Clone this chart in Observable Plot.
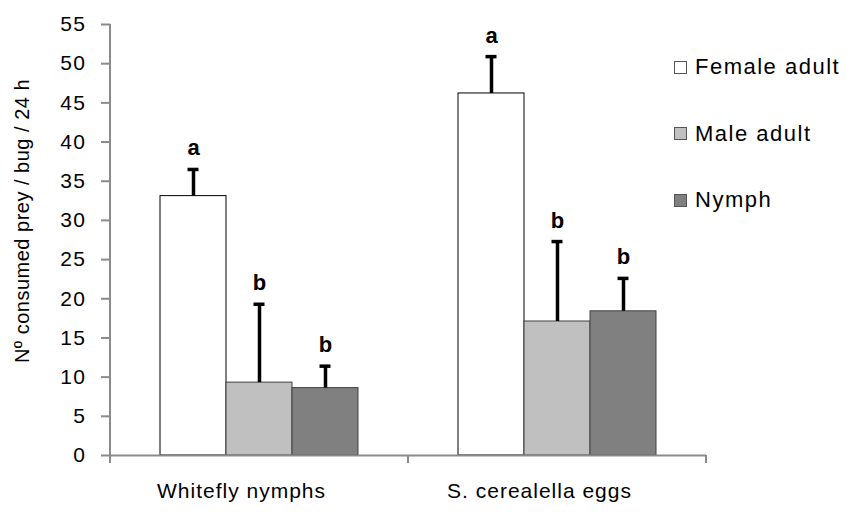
<!DOCTYPE html>
<html>
<head>
<meta charset="utf-8">
<script src="https://cdn.jsdelivr.net/npm/d3@7"></script>
<script src="https://cdn.jsdelivr.net/npm/@observablehq/plot@0.6"></script>
<style>
  html, body { margin: 0; padding: 0; background: #fff; }
  #wrap { position: relative; width: 851px; height: 512px; font-family: "Liberation Sans", Arial, sans-serif; }
  #legend { position: absolute; left: 674px; top: 54px; }
  .item { display: flex; align-items: center; height: 26px; margin-bottom: 40.5px; font-size: 22px; letter-spacing: 1.5px; color: #000; }
  .sw { width: 11px; height: 11px; border: 1px solid #555; margin-right: 8px; box-sizing: content-box; }
  #ytitle { position: absolute; left: 22px; top: 221px; transform: translate(-50%, -50%) rotate(-90deg);
    white-space: nowrap; font-size: 20px; letter-spacing: 0.5px; color: #000; line-height: 1; }
  #wrap svg [aria-label="fx-axis tick label"] { letter-spacing: 1px; }
  #wrap svg [aria-label="y-axis tick label"] { letter-spacing: 1.5px; }
</style>
</head>
<body>
<div id="wrap"></div>
<script>
// ---- data ----
const categories = ["Whitefly nymphs", "S. cerealella eggs"];
const series = ["Female adult", "Male adult", "Nymph"];
const femaleMeans = [33.1, 46.2];
const maleMeans = [9.3, 17.1];
const nymphMeans = [8.6, 18.4];
const femaleSE = [3.4, 4.7];
const maleSE = [10.0, 10.2];
const nymphSE = [2.8, 4.2];
const femaleLetters = ["a", "a"];
const maleLetters = ["b", "b"];
const nymphLetters = ["b", "b"];
const seriesFills = ["#ffffff", "#c0c0c0", "#808080"];
const seriesStrokes = ["#000000", "#404040", "#404040"];
const yTicks = [0, 5, 10, 15, 20, 25, 30, 35, 40, 45, 50, 55];
const yTitle = "Nº consumed prey / bug / 24 h";
const axisGray = "#8a8a8a";

// build table
const seriesMeans = [femaleMeans, maleMeans, nymphMeans];
const seriesSE = [femaleSE, maleSE, nymphSE];
const seriesLetters = [femaleLetters, maleLetters, nymphLetters];
const rows = [];
categories.forEach((c, ci) => {
  series.forEach((s, si) => {
    rows.push({category: c, series: s, mean: seriesMeans[si][ci], se: seriesSE[si][ci],
      top: seriesMeans[si][ci] + seriesSE[si][ci], letter: seriesLetters[si][ci]});
  });
});

// category boundary ticks on the x axis, from the x scale's range in each facet
const boundaryTicks = (index, scales, values, dims) => {
  const g = d3.create("svg:g");
  const r = scales.x.range ? scales.x.range() : [dims.marginLeft, dims.width - dims.marginRight];
  const y0 = scales.y(0);
  g.selectAll("line").data([r[0], r[1]]).join("line")
    .attr("x1", d => d).attr("x2", d => d)
    .attr("y1", y0).attr("y2", y0 + 8)
    .attr("stroke", axisGray).attr("stroke-width", 2);
  return g.node();
};

const chart = Plot.plot({
  width: 851,
  height: 512,
  marginLeft: 110,
  marginRight: 145,
  marginTop: 24,
  marginBottom: 57,
  style: {fontFamily: "'Liberation Sans', Arial, sans-serif", background: "white", color: "black"},
  fx: {domain: categories, padding: 0, label: null},
  x: {domain: series, paddingInner: 0, paddingOuter: 0.75, axis: null},
  y: {domain: [0, 55], label: null},
  color: {domain: series, range: seriesFills},
  marks: [
    Plot.barY(rows, {fx: "category", x: "series", y: "mean", fill: "series",
      stroke: d => seriesStrokes[series.indexOf(d.series)], strokeWidth: 1}),
    Plot.ruleX(rows, {fx: "category", x: "series", y1: "mean", y2: "top", stroke: "black", strokeWidth: 3.5}),
    Plot.tickY(rows, {fx: "category", x: "series", y: "top", stroke: "black", strokeWidth: 3.5, insetLeft: 27.5, insetRight: 27.5}),
    Plot.text(rows, {fx: "category", x: "series", y: "top", text: "letter", dy: -14, lineAnchor: "bottom",
      fontSize: 22, fontWeight: "bold", fill: "black"}),
    Plot.ruleY([0], {stroke: axisGray, strokeWidth: 2}),
    boundaryTicks,
    Plot.axisY({ticks: yTicks, tickSize: 9, tickPadding: 15, fontSize: 21, label: null}),
    Plot.axisFx({anchor: "bottom", tickSize: 0, tickPadding: 28, fontSize: 21, dx: -18, label: null})
  ]
});

// axis styling: gray, 2px ticks, and the vertical y-axis line from the y scale's range
const svg = d3.select(chart);
svg.selectAll('[aria-label="y-axis tick"]').attr("stroke", axisGray).attr("stroke-width", 2);
svg.selectAll('[aria-label="y-axis tick"] path').attr("stroke", axisGray).attr("stroke-width", 2);
const fxScale = chart.scale("fx");
const yScale = chart.scale("y");
svg.append("line")
  .attr("x1", fxScale.range[0]).attr("x2", fxScale.range[0])
  .attr("y1", Math.min(...yScale.range)).attr("y2", Math.max(...yScale.range))
  .attr("stroke", axisGray).attr("stroke-width", 2);

document.getElementById("wrap").appendChild(chart);

// y-axis title
d3.select("#wrap").append("div").attr("id", "ytitle").text(yTitle);

// legend
const legend = d3.select("#wrap").append("div").attr("id", "legend");
series.forEach((s, i) => {
  const item = legend.append("div").attr("class", "item");
  item.append("div").attr("class", "sw").style("background", seriesFills[i]);
  item.append("span").text(s);
});
</script>
</body>
</html>
